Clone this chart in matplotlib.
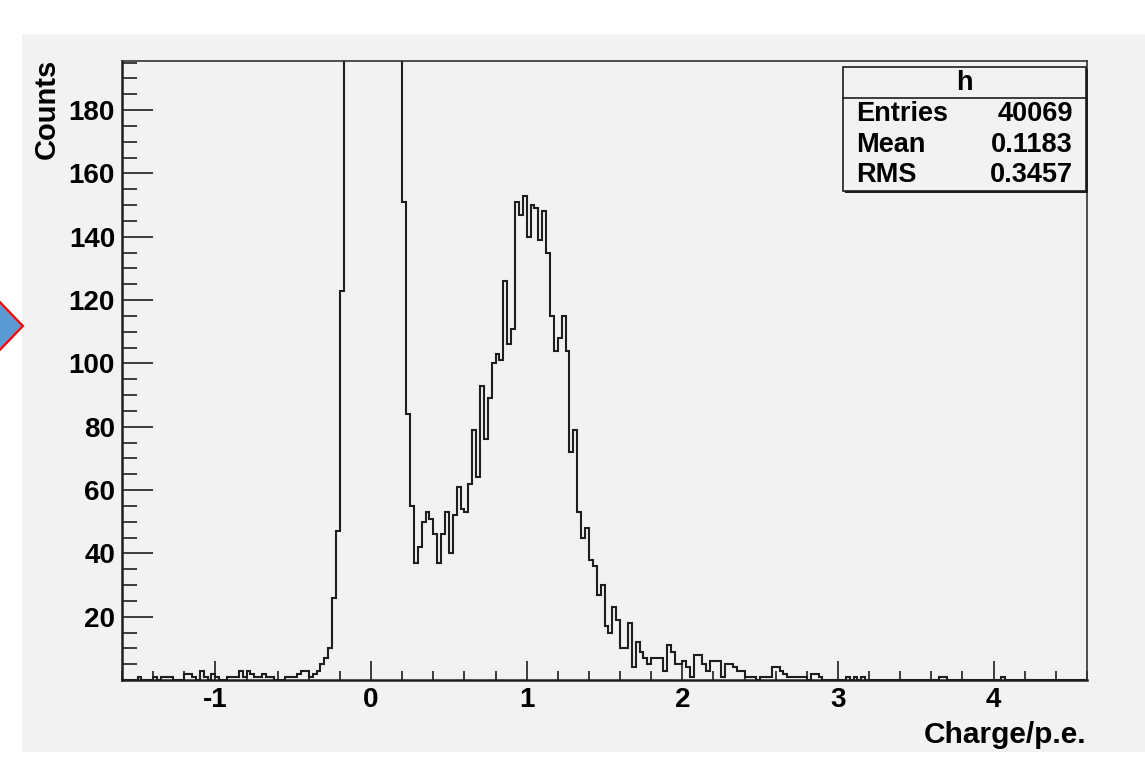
import numpy as np
import matplotlib
matplotlib.use("Agg")
import matplotlib.pyplot as plt
from matplotlib.patches import Rectangle, Polygon
from matplotlib.ticker import MultipleLocator, FixedLocator

W, H = 1145, 764

# histogram definition (ROOT TH1 "h")
x_lo, x_hi, n_bins = -1.6, 4.6, 248

# bins 0-56: noise tail and rising edge of the pedestal
left_tail = [0, 0, 0, 0, 1, 0, 0, 0, 1, 0,
             1, 1, 1, 0, 0, 0, 2, 2, 1, 0,
             3, 1, 0, 2, 1, 0, 0, 1, 1, 1,
             3, 1, 3, 2, 1, 1, 2, 1, 1, 0,
             0, 0, 1, 1, 1, 2, 3, 3, 1, 2,
             3, 5, 7, 10, 26, 47, 123]
# bins 57-71: pedestal (off scale)
pedestal = [300, 800, 1700, 2900, 4200, 5200, 5600, 5100, 3900, 2500,
            1400, 750, 420, 270, 205]
# bins 72-121: valley and single p.e. peak
spe_peak = [151, 84, 55, 37, 42, 50, 53, 51, 46, 37,
            46, 53, 40, 52, 61, 54, 53, 62, 79, 64,
            93, 76, 89, 100, 103, 101, 126, 106, 111, 151,
            147, 153, 140, 150, 149, 139, 148, 135, 115, 104,
            108, 115, 104, 72, 79, 53, 45, 48, 38, 36]
# bins 122-247: high-charge tail
right_tail = [27, 30, 17, 15, 23, 19, 10, 10, 18, 4,
              12, 9, 7, 5, 7, 7, 7, 3, 11, 9,
              5, 5, 6, 4, 1, 8, 8, 5, 3, 6,
              6, 6, 1, 5, 5, 4, 3, 3, 1, 1,
              1, 0, 1, 1, 1, 4, 4, 3, 2, 1,
              1, 1, 1, 1, 0, 2, 2, 1, 0, 0,
              0, 0, 0, 0, 1, 0, 1, 0, 1, 0,
              0, 0, 0, 0, 0, 0, 0, 0, 0, 0,
              0, 0, 0, 0, 0, 0, 0, 0, 1, 1,
              0, 0, 0, 0, 0, 0, 0, 0, 0, 0,
              0, 0, 0, 0, 1, 0, 0, 0, 0, 0,
              0, 0, 0, 0, 0, 0, 0, 0, 0, 0,
              0, 0, 0, 0, 0, 0]

stat_names = ["Entries", "Mean", "RMS"]
stat_values = ["40069", "0.1183", "0.3457"]
hist_name = "h"

counts = np.array(left_tail + pedestal + spe_peak + right_tail, dtype=float)
edges = np.linspace(x_lo, x_hi, n_bins + 1)

plt.rcParams["font.family"] = ["Liberation Sans", "DejaVu Sans"]
plt.rcParams["font.weight"] = "bold"
plt.rcParams["axes.unicode_minus"] = False

PAD_GREY = "#f2f2f2"
INK = "#1e1e1e"
TICK_FS = 20
STAT_FS = 19.5


def fx(x):
    return x / W


def fy(y):
    return 1 - y / H


fig = plt.figure(figsize=(W / 100, H / 100), dpi=100)
fig.patch.set_facecolor("white")

# grey canvas and the tip of the blue arrow on the slide
fig.patches.append(Rectangle((fx(22), fy(752)), 1 - fx(22), (752 - 34) / H,
                             transform=fig.transFigure, facecolor=PAD_GREY,
                             edgecolor="none", zorder=-10))
fig.patches.append(Polygon([(fx(-5), fy(297)), (fx(23), fy(326)), (fx(-5), fy(355))],
                           closed=True, transform=fig.transFigure,
                           facecolor="#5b9bd5", edgecolor="red", lw=1.6, zorder=-5))

ax = fig.add_axes([fx(122), fy(680), (1087 - 122) / W, (680 - 61) / H])
ax.set_zorder(1)
ax.set_facecolor(PAD_GREY)
ax.stairs(counts, edges, color=INK, lw=1.5)
ax.set_xlim(x_lo, x_hi)
ax.set_ylim(0, 195.5)

ax.xaxis.set_major_locator(MultipleLocator(1))
ax.xaxis.set_minor_locator(MultipleLocator(0.2))
ax.yaxis.set_major_locator(FixedLocator(np.arange(20, 181, 20)))
ax.yaxis.set_minor_locator(MultipleLocator(5))

ax.tick_params(axis="both", which="both", direction="in", color=INK,
               top=False, right=False, labelsize=TICK_FS, labelcolor="black")
ax.tick_params(axis="x", which="major", length=14, width=1.2, pad=5)
ax.tick_params(axis="x", which="minor", length=6.7, width=1.2)
ax.tick_params(axis="y", which="major", length=22, width=1.2, pad=5)
ax.tick_params(axis="y", which="minor", length=10.5, width=1.2)
for lab in ax.get_xticklabels() + ax.get_yticklabels():
    lab.set_fontweight("bold")

for side in ["left", "bottom"]:
    ax.spines[side].set_linewidth(1.8)
    ax.spines[side].set_color(INK)
for side in ["top", "right"]:
    ax.spines[side].set_linewidth(1.2)
    ax.spines[side].set_color("#333333")

fig.text(fx(47), fy(59), "Counts", rotation=90, ha="center", va="top",
         fontsize=21, fontweight="bold")
fig.text(fx(1086), fy(743), "Charge/p.e.", ha="right", va="baseline",
         fontsize=21.5, fontweight="bold")

# statistics box
bx0, by0, bx1, by1 = 843, 67, 1086, 191
fig.patches.append(Rectangle((fx(bx0 + 2), fy(by1 + 2)), (bx1 - bx0) / W, (by1 - by0) / H,
                             transform=fig.transFigure, facecolor=INK,
                             edgecolor="none", zorder=5))
fig.patches.append(Rectangle((fx(bx0), fy(by1)), (bx1 - bx0) / W, (by1 - by0) / H,
                             transform=fig.transFigure, facecolor=PAD_GREY,
                             edgecolor=INK, lw=1.2, zorder=6))
fig.lines.append(plt.Line2D([fx(bx0), fx(bx1)], [fy(98), fy(98)],
                            transform=fig.transFigure, color=INK, lw=1.2, zorder=7))
fig.text(fx((bx0 + bx1) / 2), fy(83), hist_name, ha="center", va="center",
         fontsize=STAT_FS, fontweight="bold", zorder=8)
for i, (name, val) in enumerate(zip(stat_names, stat_values)):
    yy = fy(114 + 30.5 * i)
    fig.text(fx(856), yy, name, ha="left", va="center", fontsize=STAT_FS,
             fontweight="bold", zorder=8)
    fig.text(fx(1073), yy, val, ha="right", va="center", fontsize=STAT_FS,
             fontweight="bold", zorder=8)

fig.savefig("out.png", dpi=100, facecolor="white")
